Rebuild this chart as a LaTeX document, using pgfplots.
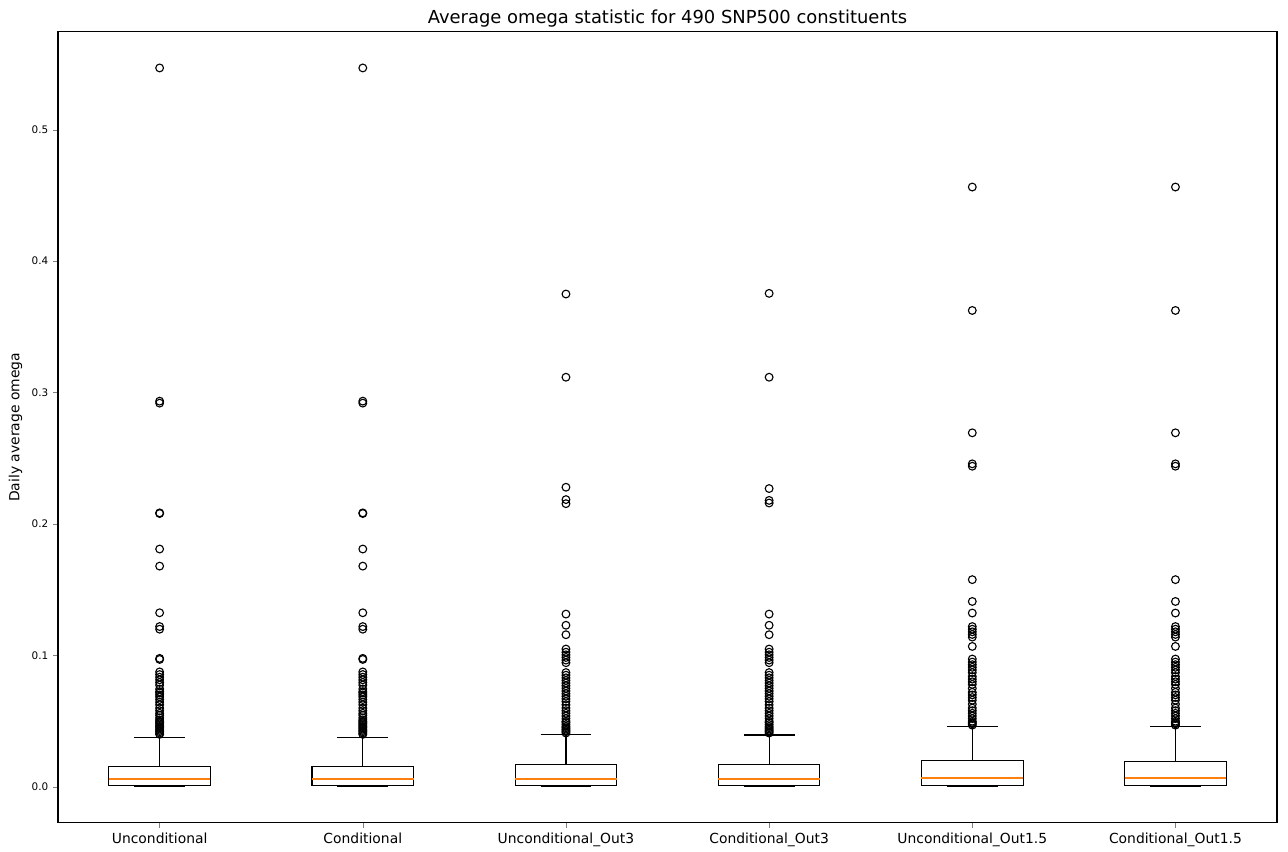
\documentclass[border=0pt]{standalone}
\usepackage{pgfplots}
\pgfplotsset{compat=1.18}
\usepgfplotslibrary{statistics}
\usepackage{fontspec}
\setmainfont{DejaVu Sans}
\definecolor{mplorange}{HTML}{FF7F0E}
\pgfplotsset{
  mplbox/.style={black, line width=0.8pt, solid, mark=o, mark size=2.8pt, mark options={black, line width=0.8pt}},
}
\begin{document}
\begin{tikzpicture}
\path (-41.8pt,-20.9pt) rectangle (885.6pt,592.5pt);
\begin{axis}[
  at={(0,0)}, anchor=south west,
  scale only axis,
  width=877.7pt, height=569.5pt,
  xmin=0.5, xmax=6.5,
  ymin=-0.02735, ymax=0.5744,
  axis line style={black, line width=0.8pt},
  tick align=outside,
  xtick pos=bottom, ytick pos=left,
  major tick length=3.5pt,
  xtick={1,2,3,4,5,6},
  xticklabels={Unconditional,Conditional,Unconditional\_Out3,Conditional\_Out3,Unconditional\_Out1.5,Conditional\_Out1.5},
  x tick label style={font=\fontsize{10}{12}\selectfont},
  ytick={0,0.1,0.2,0.3,0.4,0.5},
  y tick label style={font=\fontsize{7.5}{9}\selectfont, /pgf/number format/fixed, /pgf/number format/precision=1, /pgf/number format/fixed zerofill},
  /pgf/number format/assume math mode=true,
  scaled y ticks=false,
  title={Average omega statistic for 490 SNP500 constituents},
  title style={font=\fontsize{12.9}{15}\selectfont, at={(0.5,1)}, anchor=south, yshift=-6.5pt},
  ylabel={Daily average omega},
  ylabel style={font=\fontsize{10}{12}\selectfont},
  boxplot/draw direction=y,
  boxplot/box extend=0.5,
  boxplot/whisker extend=0.25,
  boxplot/every median/.style={draw=mplorange, line width=1.3pt},
]
% 1 Unconditional
\addplot[mplbox,
  boxplot prepared={draw position=1, lower whisker=0.0, lower quartile=0.0013, median=0.0061, upper quartile=0.0158, upper whisker=0.0376}]
  coordinates {(1,0.547) (1,0.2935) (1,0.2920) (1,0.2085) (1,0.2080) (1,0.181) (1,0.168) (1,0.1325) (1,0.1220) (1,0.1200) (1,0.0978) (1,0.0970) (1,0.0875) (1,0.0855) (1,0.0835) (1,0.0815) (1,0.0795) (1,0.0775) (1,0.0745) (1,0.0725) (1,0.0715) (1,0.0700) (1,0.0685) (1,0.0665) (1,0.0645) (1,0.0625) (1,0.0600) (1,0.0580) (1,0.0560) (1,0.0545) (1,0.0525) (1,0.0510) (1,0.0500) (1,0.0490) (1,0.0480) (1,0.0470) (1,0.0460) (1,0.0450) (1,0.0440) (1,0.0430) (1,0.0420) (1,0.0410) (1,0.0400)};
% 2 Conditional
\addplot[mplbox,
  boxplot prepared={draw position=2, lower whisker=0.0, lower quartile=0.0013, median=0.0061, upper quartile=0.0158, upper whisker=0.0376}]
  coordinates {(2,0.547) (2,0.2935) (2,0.2920) (2,0.2085) (2,0.2080) (2,0.181) (2,0.168) (2,0.1325) (2,0.1220) (2,0.1200) (2,0.0978) (2,0.0970) (2,0.0875) (2,0.0855) (2,0.0835) (2,0.0815) (2,0.0795) (2,0.0775) (2,0.0745) (2,0.0725) (2,0.0715) (2,0.0700) (2,0.0685) (2,0.0665) (2,0.0645) (2,0.0625) (2,0.0600) (2,0.0580) (2,0.0560) (2,0.0545) (2,0.0525) (2,0.0510) (2,0.0500) (2,0.0490) (2,0.0480) (2,0.0470) (2,0.0460) (2,0.0450) (2,0.0440) (2,0.0430) (2,0.0420) (2,0.0410) (2,0.0400)};
% 3 Unconditional_Out3
\addplot[mplbox,
  boxplot prepared={draw position=3, lower whisker=0.0, lower quartile=0.0014, median=0.0059, upper quartile=0.0170, upper whisker=0.0401}]
  coordinates {(3,0.375) (3,0.3117) (3,0.228) (3,0.2186) (3,0.2155) (3,0.1315) (3,0.1230) (3,0.1158) (3,0.1049) (3,0.1025) (3,0.1005) (3,0.0985) (3,0.0965) (3,0.0945) (3,0.0870) (3,0.0850) (3,0.0830) (3,0.0810) (3,0.0790) (3,0.0770) (3,0.0750) (3,0.0730) (3,0.0710) (3,0.0690) (3,0.0670) (3,0.0650) (3,0.0625) (3,0.0600) (3,0.0580) (3,0.0560) (3,0.0540) (3,0.0520) (3,0.0500) (3,0.0490) (3,0.0475) (3,0.0460) (3,0.0450) (3,0.0440) (3,0.0430) (3,0.0420) (3,0.0410)};
% 4 Conditional_Out3
\addplot[mplbox,
  boxplot prepared={draw position=4, lower whisker=0.0, lower quartile=0.0014, median=0.0059, upper quartile=0.0168, upper whisker=0.0395}]
  coordinates {(4,0.3755) (4,0.3117) (4,0.227) (4,0.2180) (4,0.2160) (4,0.1315) (4,0.1230) (4,0.1158) (4,0.1049) (4,0.1025) (4,0.1005) (4,0.0985) (4,0.0965) (4,0.0945) (4,0.0870) (4,0.0850) (4,0.0830) (4,0.0810) (4,0.0790) (4,0.0770) (4,0.0750) (4,0.0730) (4,0.0710) (4,0.0690) (4,0.0670) (4,0.0650) (4,0.0625) (4,0.0600) (4,0.0580) (4,0.0560) (4,0.0540) (4,0.0520) (4,0.0500) (4,0.0490) (4,0.0475) (4,0.0460) (4,0.0450) (4,0.0440) (4,0.0430) (4,0.0420) (4,0.0410)};
% 5 Unconditional_Out1.5
\addplot[mplbox,
  boxplot prepared={draw position=5, lower whisker=0.0, lower quartile=0.0013, median=0.0071, upper quartile=0.0198, upper whisker=0.0459}]
  coordinates {(5,0.4564) (5,0.3625) (5,0.2694) (5,0.2458) (5,0.2440) (5,0.1577) (5,0.1411) (5,0.1323) (5,0.1220) (5,0.1200) (5,0.1180) (5,0.1160) (5,0.1140) (5,0.1069) (5,0.0973) (5,0.0950) (5,0.0930) (5,0.0910) (5,0.0890) (5,0.0870) (5,0.0840) (5,0.0820) (5,0.0800) (5,0.0780) (5,0.0750) (5,0.0720) (5,0.0700) (5,0.0680) (5,0.0660) (5,0.0630) (5,0.0600) (5,0.0580) (5,0.0560) (5,0.0540) (5,0.0520) (5,0.0500) (5,0.0490) (5,0.0480) (5,0.0470)};
% 6 Conditional_Out1.5
\addplot[mplbox,
  boxplot prepared={draw position=6, lower whisker=0.0, lower quartile=0.0013, median=0.0071, upper quartile=0.0192, upper whisker=0.0460}]
  coordinates {(6,0.4564) (6,0.3625) (6,0.2694) (6,0.2458) (6,0.2440) (6,0.1577) (6,0.1411) (6,0.1323) (6,0.1220) (6,0.1200) (6,0.1180) (6,0.1160) (6,0.1140) (6,0.1069) (6,0.0973) (6,0.0950) (6,0.0930) (6,0.0910) (6,0.0890) (6,0.0870) (6,0.0840) (6,0.0820) (6,0.0800) (6,0.0780) (6,0.0750) (6,0.0720) (6,0.0700) (6,0.0680) (6,0.0660) (6,0.0630) (6,0.0600) (6,0.0580) (6,0.0560) (6,0.0540) (6,0.0520) (6,0.0500) (6,0.0490) (6,0.0480) (6,0.0470)};
\end{axis}
\end{tikzpicture}
\end{document}
